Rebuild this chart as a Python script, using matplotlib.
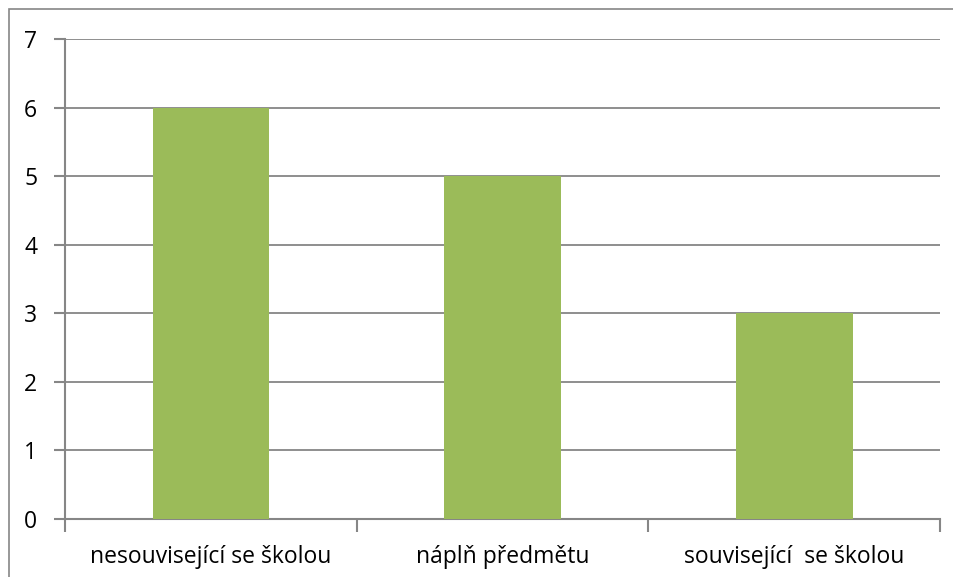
import matplotlib.pyplot as plt
from matplotlib.patches import Rectangle

# data
categories = ['nesouvisející se školou', 'náplň předmětu', 'související  se školou']
values = [6, 5, 3]
y_ticks = [0, 1, 2, 3, 4, 5, 6, 7]

W, H = 954, 577
fig = plt.figure(figsize=(W / 100, H / 100), dpi=100)
plt.rcParams['font.family'] = ['Open Sans', 'DejaVu Sans']

# outer chart border (only top/left visible in crop)
fig.patches.append(Rectangle((9 / W, -0.2), 1.2, 1 - 9 / H + 0.2,
                             transform=fig.transFigure, fill=False,
                             edgecolor='#868686', linewidth=1.2))

ax = fig.add_axes([65 / W, (H - 519) / H, 875 / W, 480 / H])
grey = '#868686'

x = range(len(categories))
ax.bar(x, values, width=0.4, color='#9BBB59', zorder=3)

ax.set_xlim(-0.5, len(categories) - 0.5)
ax.set_ylim(0, 7)
ax.set_yticks(y_ticks)
ax.set_yticklabels([str(t) for t in y_ticks], fontsize=16.5)
ax.set_xticks(list(x))
ax.set_xticklabels(categories, fontsize=16.5)
ax.set_xticks([i - 0.5 for i in range(len(categories) + 1)], minor=True)

ax.tick_params(axis='x', which='major', length=0, pad=19)
ax.tick_params(axis='x', which='minor', length=9, width=1.5, color=grey, direction='out')
ax.tick_params(axis='y', length=8, width=1.5, color=grey, direction='out', pad=12)

ax.grid(axis='y', color=grey, linewidth=1.3, zorder=0)
ax.set_axisbelow(True)
for s in ['top', 'right']:
    ax.spines[s].set_visible(False)
for s in ['left', 'bottom']:
    ax.spines[s].set_color(grey)
    ax.spines[s].set_linewidth(1.5)

fig.savefig('out.png', dpi=100)
